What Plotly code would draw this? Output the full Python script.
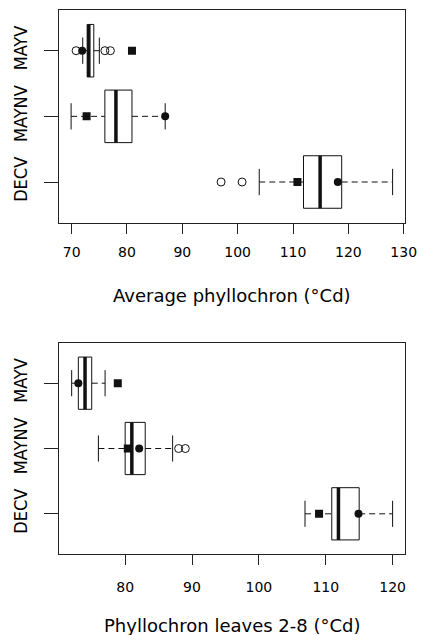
import plotly.graph_objects as go

cats = ["DECV", "MAYNV", "MAYV"]

# Panel 1: Average phyllochron (°Cd)
avg_q1 = [111.9, 76.0, 72.8]
avg_med = [114.9, 78.0, 73.1]
avg_q3 = [118.8, 80.9, 74.0]
avg_lo = [103.9, 69.9, 72.0]
avg_hi = [128.0, 86.9, 75.0]
avg_out = [[97.0, 100.8], [], [70.8, 76.0, 77.0]]
avg_circle = [118.1, 86.9, 71.9]
avg_square = [110.8, 72.7, 80.9]

# Panel 2: Phyllochron leaves 2-8 (°Cd)
p28_q1 = [110.9, 80.0, 73.0]
p28_med = [111.9, 81.0, 74.0]
p28_q3 = [115.0, 83.0, 75.0]
p28_lo = [106.9, 76.0, 72.0]
p28_hi = [120.0, 87.1, 77.0]
p28_out = [[], [88.0, 89.0], []]
p28_circle = [114.9, 82.1, 73.0]
p28_square = [109.0, 80.4, 78.9]

x_ticks_top = [70, 80, 90, 100, 110, 120, 130]
x_ticks_bot = [80, 90, 100, 110, 120]
title_top = "Average phyllochron (°Cd)"
title_bot = "Phyllochron leaves 2-8 (°Cd)"

W, H = 433, 635
BW = 0.4      # half box width (category units)
SW = 0.2      # half staple width
INK = "#111111"

fig = go.Figure()


def add_panel(xa, ya, q1, med, q3, lo, hi, outs, circ, sq):
    bx, by, mx, my, wx, wy, sx, sy, ox, oy = [], [], [], [], [], [], [], [], [], []
    for i in range(len(cats)):
        p = i + 1
        bx += [q1[i], q3[i], q3[i], q1[i], q1[i], None]
        by += [p - BW, p - BW, p + BW, p + BW, p - BW, None]
        mx += [med[i], med[i], None]
        my += [p - BW, p + BW, None]
        wx += [lo[i], q1[i], None, q3[i], hi[i], None]
        wy += [p, p, None, p, p, None]
        sx += [lo[i], lo[i], None, hi[i], hi[i], None]
        sy += [p - SW, p + SW, None, p - SW, p + SW, None]
        for v in outs[i]:
            ox.append(v)
            oy.append(p)
    pos = [i + 1 for i in range(len(cats))]
    common = dict(xaxis=xa, yaxis=ya, showlegend=False, hoverinfo="skip")
    fig.add_trace(go.Scatter(x=wx, y=wy, mode="lines",
                             line=dict(color=INK, width=1, dash="6px,4px"), **common))
    fig.add_trace(go.Scatter(x=sx, y=sy, mode="lines",
                             line=dict(color=INK, width=1), **common))
    fig.add_trace(go.Scatter(x=bx, y=by, mode="lines",
                             line=dict(color=INK, width=1), **common))
    fig.add_trace(go.Scatter(x=mx, y=my, mode="lines",
                             line=dict(color=INK, width=3.5), **common))
    fig.add_trace(go.Scatter(x=ox, y=oy, mode="markers",
                             marker=dict(symbol="circle-open", size=8,
                                         color=INK, line=dict(width=1)), **common))
    fig.add_trace(go.Scatter(x=sq, y=pos, mode="markers",
                             marker=dict(symbol="square", size=8, color=INK), **common))
    fig.add_trace(go.Scatter(x=circ, y=pos, mode="markers",
                             marker=dict(symbol="circle", size=8, color=INK), **common))


add_panel("x", "y", avg_q1, avg_med, avg_q3, avg_lo, avg_hi, avg_out, avg_circle, avg_square)
add_panel("x2", "y2", p28_q1, p28_med, p28_q3, p28_lo, p28_hi, p28_out, p28_circle, p28_square)

xdom = [60.5 / W, 417 / W]
top_dom = [1 - 222.7 / H, 1 - 10 / H]
bot_dom = [1 - 554.3 / H, 1 - 342.7 / H]

xfont = dict(family="DejaVu Sans", size=14, color="#000")
yfont = dict(family="Liberation Sans Narrow, DejaVu Sans Condensed, Liberation Sans",
             size=18, color="#000")


def xaxis_cfg(dom, anchor, ticks, rng, standoff):
    return dict(domain=dom, anchor=anchor, range=rng, tickvals=ticks,
                ticktext=[str(t) for t in ticks], ticks="outside", ticklen=10,
                tickcolor="#222", tickwidth=1, showline=True, mirror=True,
                linecolor="#222", linewidth=1, showgrid=False, zeroline=False,
                tickfont=xfont, ticklabelstandoff=standoff)


def yaxis_cfg(dom, anchor):
    return dict(domain=dom, anchor=anchor, range=[0.38, 3.62], tickvals=[1, 2, 3],
                ticktext=cats, tickangle=-90, ticks="outside", ticklen=14,
                tickcolor="#222", tickwidth=1, showline=True, mirror=True,
                linecolor="#222", linewidth=1, showgrid=False, zeroline=False,
                tickfont=yfont, ticklabelstandoff=10)


fig.update_layout(
    width=W, height=H,
    margin=dict(l=0, r=0, t=0, b=0),
    paper_bgcolor="white", plot_bgcolor="white",
    showlegend=False,
    xaxis=xaxis_cfg(xdom, "y", x_ticks_top, [67.68, 130.32], 6),
    yaxis=yaxis_cfg(top_dom, "x"),
    xaxis2=xaxis_cfg(xdom, "y2", x_ticks_bot, [70.08, 121.92], 10),
    yaxis2=yaxis_cfg(bot_dom, "x2"),
    annotations=[
        dict(text=title_top, xref="paper", yref="paper",
             x=(60.5 + 417) / 2 / W, y=1 - 295 / H, xanchor="center", yanchor="middle",
             showarrow=False, font=dict(family="DejaVu Sans", size=18, color="#000")),
        dict(text=title_bot, xref="paper", yref="paper",
             x=(60.5 + 417) / 2 / W, y=1 - 625 / H, xanchor="center", yanchor="middle",
             showarrow=False, font=dict(family="DejaVu Sans", size=18, color="#000")),
    ],
)

fig.write_html("out.html")
